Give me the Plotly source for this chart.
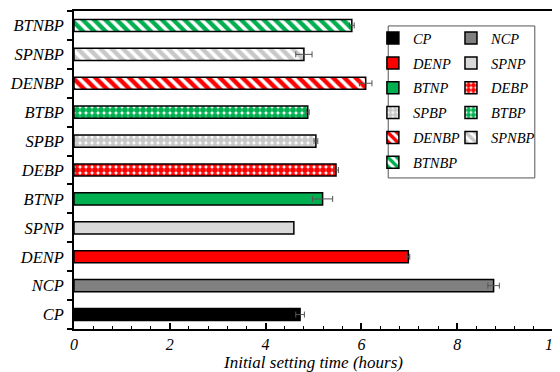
import plotly.graph_objects as go

categories = ["CP", "NCP", "DENP", "SPNP", "BTNP", "DEBP", "SPBP", "BTBP", "DENBP", "SPNBP", "BTNBP"]
values = [4.72, 8.76, 6.98, 4.59, 5.19, 5.47, 5.05, 4.88, 6.09, 4.80, 5.80]
errors = [0.09, 0.12, 0.03, 0.0, 0.21, 0.05, 0.04, 0.03, 0.13, 0.17, 0.05]
colors = ["#000000", "#808080", "#FF0000", "#D9D9D9", "#00B050", "#FF0000", "#C8C8C8", "#00B050", "#FF0000", "#C8C8C8", "#00B050"]
patterns = ["", "", "", "", "", ".", ".", ".", "\\", "\\", "\\"]
legend_col = ["legend", "legend2", "legend", "legend2", "legend", "legend2", "legend", "legend2", "legend", "legend2", "legend"]

FAM = "Liberation Serif, Times New Roman, Tinos, serif"

fig = go.Figure()
for i, c in enumerate(categories):
    marker = dict(color=colors[i], line=dict(color="black", width=1.5))
    if patterns[i]:
        if patterns[i] == ".":
            marker["pattern"] = dict(shape=".", fillmode="replace", bgcolor="white",
                                     fgcolor=colors[i], size=6, solidity=0.75)
        else:
            marker["pattern"] = dict(shape="\\", fillmode="replace", bgcolor="white",
                                     fgcolor=colors[i], size=8, solidity=0.55)
    fig.add_trace(go.Bar(
        y=[c], x=[values[i]], orientation="h", name=c, marker=marker, width=0.42,
        error_x=dict(type="data", array=[errors[i]], color="#555555", thickness=1, width=3,
                     visible=errors[i] > 0),
        legend=legend_col[i], legendgroup=c,
    ))

font = dict(family=FAM, size=16, color="black", style="italic")
yfont = dict(family=FAM, size=16.5, color="black", style="italic")
lfont = dict(family=FAM, size=14.5, color="black", style="italic")

fig.update_layout(
    width=560, height=372,
    margin=dict(l=66, r=15, t=3, b=51),
    barmode="overlay",
    plot_bgcolor="white", paper_bgcolor="white",
    font=font,
    showlegend=True,
    legend=dict(x=0.624, y=0.965, xanchor="left", yanchor="top", bgcolor="rgba(0,0,0,0)",
                font=lfont, tracegroupgap=3, itemwidth=30),
    legend2=dict(x=0.787, y=0.965, xanchor="left", yanchor="top", bgcolor="rgba(0,0,0,0)",
                 font=lfont, tracegroupgap=3, itemwidth=30),
    shapes=[dict(type="rect", xref="paper", yref="paper", x0=0.656, x1=0.962, y0=0.475, y1=0.953,
                 line=dict(color="#555555", width=1), fillcolor="rgba(0,0,0,0)")],
)

fig.update_xaxes(
    range=[0, 10], dtick=2, ticks="inside", ticklen=6, tickwidth=1.5, tickcolor="black",
    showline=True, linecolor="black", linewidth=1.5, mirror=True, showgrid=False, zeroline=False,
    minor=dict(dtick=0.4, ticks="inside", ticklen=3, tickcolor="black", tickwidth=1),
    tickfont=font, automargin=False,
    title=dict(text="Initial setting time (hours)", font=dict(family=FAM, size=17, style="italic", color="black"), standoff=2),
)
fig.update_yaxes(
    categoryorder="array", categoryarray=categories,
    ticks="outside", tickson="boundaries", ticklen=5, tickwidth=1.5, tickcolor="black",
    showline=True, linecolor="black", linewidth=1.5, mirror=True, showgrid=False,
    tickfont=yfont, range=[-0.5, 10.5], automargin=False, ticklabelstandoff=5,
)

fig.write_html("out.html")
